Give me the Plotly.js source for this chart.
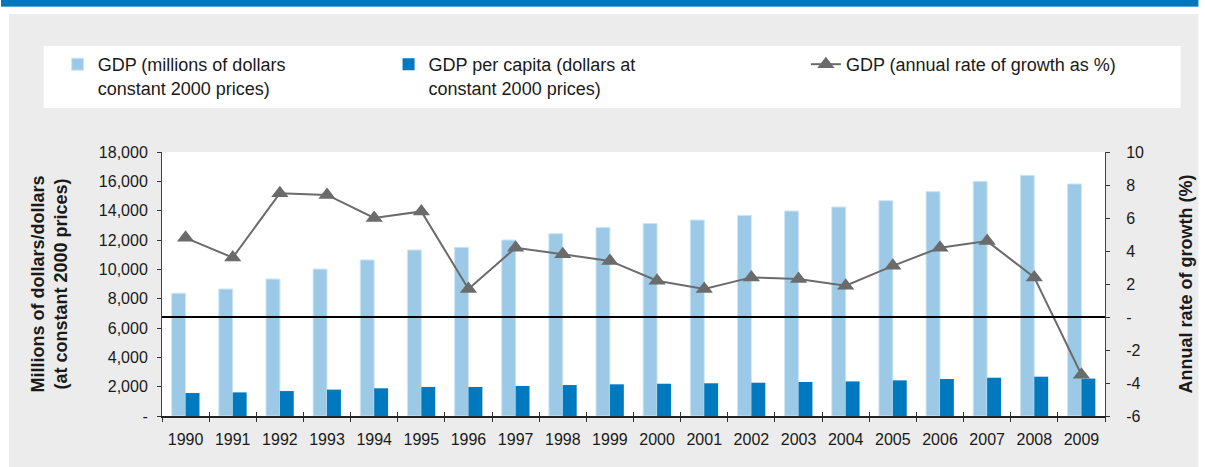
<!DOCTYPE html>
<html>
<head>
<meta charset="utf-8">
<script src="https://cdn.plot.ly/plotly-3.0.1.min.js"></script>
<style>html,body{margin:0;padding:0;background:#fff;}#chart{width:1205px;height:467px;}</style>
</head>
<body>
<div id="chart"></div>
<script>
// ---- data ----
const years = ['1990','1991','1992','1993','1994','1995','1996','1997','1998','1999',
               '2000','2001','2002','2003','2004','2005','2006','2007','2008','2009'];
const gdpMillions = [8370, 8660, 9340, 10020, 10640, 11320, 11500, 12000, 12430, 12860,
                     13130, 13360, 13680, 13980, 14250, 14680, 15300, 16000, 16410, 15820];
const gdpPerCapita = [1570, 1610, 1700, 1800, 1890, 1980, 1980, 2050, 2110, 2160,
                      2200, 2230, 2270, 2320, 2360, 2430, 2520, 2610, 2680, 2550];
const gdpGrowth = [4.8, 3.6, 7.5, 7.4, 6.0, 6.4, 1.7, 4.2, 3.8, 3.4,
                   2.2, 1.7, 2.4, 2.3, 1.9, 3.1, 4.2, 4.6, 2.4, -3.5];
const leftTickVals = [0, 2000, 4000, 6000, 8000, 10000, 12000, 14000, 16000, 18000];
const leftTickText = ['-', '2,000', '4,000', '6,000', '8,000', '10,000', '12,000', '14,000', '16,000', '18,000'];
const rightTickVals = [-6, -4, -2, 0, 2, 4, 6, 8, 10];
const rightTickText = ['-6', '-4', '-2', '-', '2', '4', '6', '8', '10'];
const seriesNames = ['GDP (millions of dollars<br>constant 2000 prices)',
                     'GDP per capita (dollars at<br>constant 2000 prices)',
                     'GDP (annual rate of growth as %)'];
const leftTitle = 'Millions of dollars/dollars<br>(at constant 2000 prices)';
const rightTitle = 'Annual rate of growth (%)';

// ---- geometry helpers (page pixels -> paper coords) ----
const W = 1205, H = 467;
const M = {l: 162, r: 94, t: 152, b: 51};
const PW = W - M.l - M.r, PH = H - M.t - M.b;
const px = x => (x - M.l) / PW;
const py = y => (H - M.b - y) / PH;

const FONT = 'Liberation Sans, Arial, Helvetica, sans-serif';
const TXT = '#1a1a1a';
const LIGHT = '#9ccae6';
const DARK = '#0079bf';
const GREY = '#6b6b6b';

const traces = [
  {type: 'bar', x: years, y: gdpMillions, name: seriesNames[0], legend: 'legend',
   marker: {color: LIGHT, line: {color: '#cde5f4', width: 1}}, xaxis: 'x', yaxis: 'y', hoverinfo: 'x+y'},
  {type: 'bar', x: years, y: gdpPerCapita, name: seriesNames[1], legend: 'legend2',
   marker: {color: DARK, line: {width: 0}}, xaxis: 'x', yaxis: 'y', hoverinfo: 'x+y'},
  {type: 'scatter', mode: 'lines+markers', x: years, y: gdpGrowth, name: seriesNames[2], legend: 'legend3',
   line: {color: GREY, width: 2}, marker: {symbol: 'triangle-up', size: 15, color: GREY},
   xaxis: 'x', yaxis: 'y2', cliponaxis: false},
  // carrier for the inner half of the x tick marks
  {type: 'scatter', mode: 'none', x: years, y: gdpPerCapita, xaxis: 'x2', yaxis: 'y',
   showlegend: false, hoverinfo: 'skip'}
];

const tickFont = {family: FONT, size: 16, color: TXT};
const baseY = {ticks: 'outside', ticklen: 4, tickwidth: 1, tickcolor: '#333',
               showline: true, linecolor: '#444', linewidth: 1, showgrid: false, zeroline: false,
               tickfont: tickFont, fixedrange: true};

const layout = {
  width: W, height: H,
  margin: M,
  paper_bgcolor: '#ffffff',
  plot_bgcolor: 'rgba(0,0,0,0)',
  font: {family: FONT, color: TXT},
  barmode: 'group', bargap: 0.41, bargroupgap: 0,
  showlegend: true,
  xaxis: {type: 'category', categoryorder: 'array', categoryarray: years, range: [-0.5, 19.5],
          tickson: 'boundaries', ticks: 'outside', ticklen: 4, tickwidth: 1, tickcolor: '#333',
          showline: true, linecolor: '#222', linewidth: 1.5, showgrid: false, zeroline: false,
          tickfont: tickFont, ticklabelstandoff: 8, fixedrange: true, anchor: 'y'},
  xaxis2: {type: 'category', categoryorder: 'array', categoryarray: years, range: [-0.5, 19.5],
           overlaying: 'x', anchor: 'y', side: 'bottom', tickson: 'boundaries', ticks: 'inside',
           ticklen: 4, tickwidth: 1, tickcolor: '#333', showticklabels: false, showline: false,
           showgrid: false, zeroline: false, fixedrange: true},
  yaxis: Object.assign({}, baseY, {range: [0, 18000], tickvals: leftTickVals, ticktext: leftTickText,
          side: 'left', anchor: 'x', ticklabelstandoff: 6, automargin: true,
          title: {text: leftTitle, font: {family: FONT, size: 18, color: TXT, weight: 'bold'}, standoff: 26}}),
  yaxis2: Object.assign({}, baseY, {range: [-6, 10], tickvals: rightTickVals, ticktext: rightTickText,
          side: 'right', overlaying: 'y', anchor: 'x', ticklabelstandoff: 13, automargin: true,
          zeroline: true, zerolinecolor: '#000000', zerolinewidth: 2, zerolinelayer: 'above traces',
          title: {text: rightTitle, font: {family: FONT, size: 18, color: TXT, weight: 'bold'}, standoff: 36}}),
  yaxis3: Object.assign({}, baseY, {range: [0, 18000], tickvals: leftTickVals, ticks: 'inside',
          showticklabels: false, side: 'left', overlaying: 'y', anchor: 'x'}),
  yaxis4: Object.assign({}, baseY, {range: [-6, 10], tickvals: rightTickVals, ticks: 'inside',
          showticklabels: false, side: 'right', overlaying: 'y', anchor: 'x'}),
  legend: {x: px(57), y: py(46), xanchor: 'left', yanchor: 'top', bgcolor: 'rgba(0,0,0,0)',
           font: {family: FONT, size: 18, color: TXT}, valign: 'top', borderwidth: 0},
  legend2: {x: px(390), y: py(46), xanchor: 'left', yanchor: 'top', bgcolor: 'rgba(0,0,0,0)',
           font: {family: FONT, size: 18, color: TXT}, valign: 'top', borderwidth: 0},
  legend3: {x: px(810), y: py(46), xanchor: 'left', yanchor: 'top', bgcolor: 'rgba(0,0,0,0)',
           font: {family: FONT, size: 18, color: TXT}, valign: 'top', borderwidth: 0},
  shapes: [
    // top blue banner
    {type: 'rect', xref: 'paper', yref: 'paper', layer: 'below', x0: px(0), x1: px(W), y0: py(0), y1: py(6),
     fillcolor: '#0077bd', line: {width: 0}},
    {type: 'rect', xref: 'paper', yref: 'paper', layer: 'below', x0: px(0), x1: px(W), y0: py(6), y1: py(7),
     fillcolor: '#5aa6d6', line: {width: 0}},
    // grey panel
    {type: 'rect', xref: 'paper', yref: 'paper', layer: 'below', x0: px(8), x1: px(W), y0: py(14), y1: py(H),
     fillcolor: '#ebeceb', line: {width: 0}},
    // white legend box
    {type: 'rect', xref: 'paper', yref: 'paper', layer: 'below', x0: px(43), x1: px(1187), y0: py(46), y1: py(108),
     fillcolor: '#ffffff', line: {width: 0}},
    // white plot area
    {type: 'rect', xref: 'paper', yref: 'paper', layer: 'below', x0: 0, x1: 1, y0: 0, y1: 1,
     fillcolor: '#ffffff', line: {width: 0}}
  ]
};

Plotly.newPlot('chart', traces, layout, {displayModeBar: false, staticPlot: true});
</script>
</body>
</html>
